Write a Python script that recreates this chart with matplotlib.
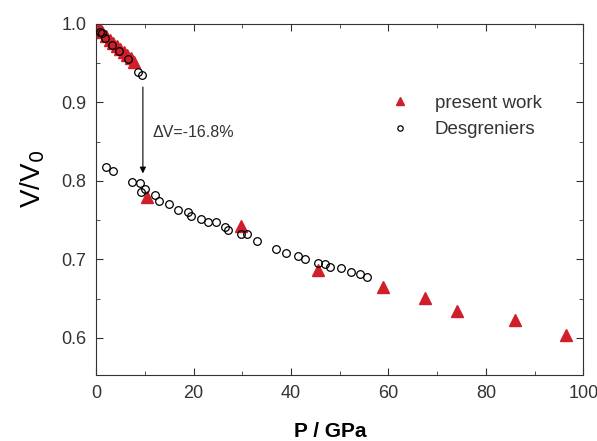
"""V/V0 vs pressure: present work vs Desgreniers."""
import matplotlib
matplotlib.use("Agg")
import matplotlib.pyplot as plt
from matplotlib.ticker import MultipleLocator, FormatStrFormatter

plt.rcParams["font.family"] = ["Liberation Sans", "DejaVu Sans"]

# present work (red triangles)
p_work = [0.5, 1.2, 2.0, 2.8, 3.5, 4.2, 5.0, 5.7, 6.4, 7.1, 7.8,
          10.4, 29.7, 45.6, 58.8, 67.6, 74.0, 86.0, 96.5]
v_work = [0.996, 0.990, 0.985, 0.980, 0.976, 0.972, 0.968, 0.964, 0.960, 0.956, 0.952,
          0.780, 0.743, 0.687, 0.665, 0.651, 0.634, 0.623, 0.604]

# Desgreniers (open circles)
p_desg = [0.7, 1.2, 1.8, 3.2, 4.6, 6.5, 8.5, 9.4,
          2.0, 3.5, 7.3, 9.0, 9.2, 10.0, 12.1, 12.9, 15.0, 16.9, 18.9, 19.5,
          21.6, 22.9, 24.6, 26.4, 27.1, 29.7, 30.9, 33.1, 37.0, 38.9, 41.5,
          42.8, 45.6, 46.9, 48.1, 50.3, 52.4, 54.1, 55.7]
v_desg = [0.990, 0.988, 0.982, 0.973, 0.965, 0.955, 0.939, 0.935,
          0.818, 0.813, 0.798, 0.797, 0.786, 0.790, 0.782, 0.774, 0.771, 0.763, 0.761, 0.755,
          0.752, 0.747, 0.747, 0.741, 0.738, 0.732, 0.732, 0.724, 0.713, 0.708, 0.704,
          0.700, 0.696, 0.694, 0.690, 0.689, 0.684, 0.681, 0.678]

red = "#d01f2b"
grey = "#333333"

fig = plt.figure(figsize=(5.97, 4.41), dpi=100)
ax = fig.add_axes([0.161, 0.150, 0.816, 0.796])

ax.plot(p_work, v_work, linestyle="none", marker="^", markersize=8,
        color=red, markeredgecolor=red, label="present work", zorder=2)
ax.plot(p_desg, v_desg, linestyle="none", marker="o", markersize=5.5,
        markerfacecolor="none", markeredgecolor="black", markeredgewidth=0.9,
        label="Desgreniers", zorder=3)

ax.annotate("", xy=(9.6, 0.806), xytext=(9.6, 0.923),
            arrowprops=dict(arrowstyle="-|>", color="black", lw=0.8,
                            mutation_scale=9))
ax.text(11.6, 0.862, "\u0394V=-16.8%", fontsize=11.5, va="center", ha="left",
        color=grey)

ax.set_xlim(0, 100)
ax.set_ylim(0.553, 1.0)
ax.xaxis.set_major_locator(MultipleLocator(20))
ax.xaxis.set_minor_locator(MultipleLocator(10))
ax.yaxis.set_major_locator(MultipleLocator(0.1))
ax.yaxis.set_minor_locator(MultipleLocator(0.05))
ax.yaxis.set_major_formatter(FormatStrFormatter("%.1f"))
ax.tick_params(which="both", direction="in", top=True, right=True,
               labelsize=13, pad=7, colors=grey, labelcolor=grey)
ax.tick_params(which="major", length=5)
ax.tick_params(which="minor", length=3)
for s in ax.spines.values():
    s.set_color(grey)

ax.set_xlabel("P / GPa", fontsize=15, fontweight="bold")
ax.xaxis.set_label_coords(0.480, -0.135)
ax.set_ylabel("V/V$_0$", fontsize=20)
ax.yaxis.set_label_coords(-0.10, 0.558)

ax.legend(loc="upper left", bbox_to_anchor=(0.569, 0.846), frameon=False,
          fontsize=13.5, handlelength=1.0, handletextpad=1.37,
          borderpad=0.4, markerscale=0.7, labelspacing=0.5,
          labelcolor=grey)

fig.savefig("out.png", dpi=100)
